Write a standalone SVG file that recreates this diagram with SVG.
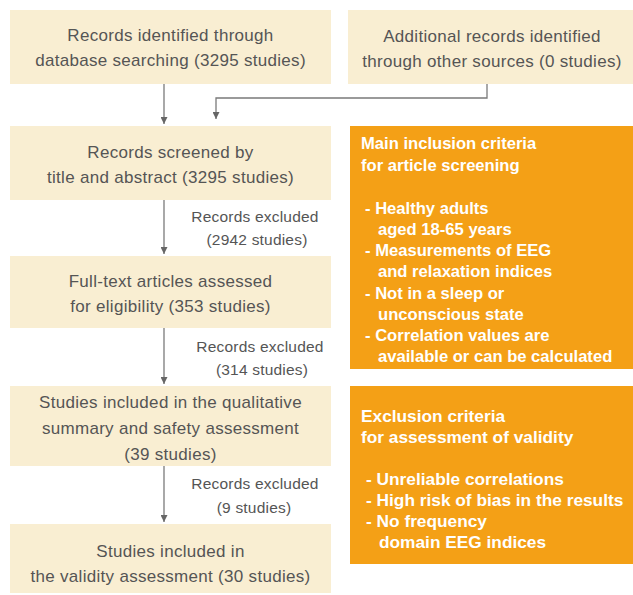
<svg xmlns="http://www.w3.org/2000/svg" width="633" height="595" viewBox="0 0 633 595">
  <style>
    .box { fill: #F9EED2; }
    .crit { fill: #F4A016; }
    .t { font-family: "Liberation Sans", Arial, sans-serif; font-size: 17px; fill: #555555; text-anchor: middle; letter-spacing: 0.3px; }
    .lbl { font-family: "Liberation Sans", Arial, sans-serif; font-size: 15.5px; fill: #555555; text-anchor: middle; letter-spacing: 0.2px; }
    .w { font-family: "Liberation Sans", Arial, sans-serif; font-size: 16.6px; font-weight: bold; fill: #FFFFFF; }
    .w2 { font-family: "Liberation Sans", Arial, sans-serif; font-size: 17.3px; font-weight: bold; fill: #FFFFFF; }
    .edge { fill: none; stroke: #7A7A7A; stroke-width: 1.3; }
  </style>
  <defs>
    <marker id="arrow" viewBox="0 0 10 10" refX="10" refY="5" markerWidth="7" markerHeight="7" markerUnits="userSpaceOnUse" orient="auto">
      <path d="M0,0 L10,5 L0,10 Z" fill="#666666"/>
    </marker>
  </defs>

  <rect width="633" height="595" fill="#FFFFFF"/>

  <!-- connectors -->
  <g id="connectors">
    <line class="edge" x1="164" y1="84" x2="164" y2="124" marker-end="url(#arrow)"/>
    <polyline class="edge" points="487,84 487,98 216,98 216,119" marker-end="url(#arrow)"/>
    <line class="edge" x1="164" y1="200" x2="164" y2="254" marker-end="url(#arrow)"/>
    <line class="edge" x1="164" y1="328" x2="164" y2="384" marker-end="url(#arrow)"/>
    <line class="edge" x1="164" y1="466" x2="164" y2="522" marker-end="url(#arrow)"/>
  </g>

  <!-- exclusion labels along the flow -->
  <g id="excluded-labels">
    <text class="lbl" x="255" y="222">Records excluded</text>
    <text class="lbl" x="257" y="245">(2942 studies)</text>
    <text class="lbl" x="260" y="352">Records excluded</text>
    <text class="lbl" x="262" y="375">(314 studies)</text>
    <text class="lbl" x="255" y="489">Records excluded</text>
    <text class="lbl" x="254" y="513">(9 studies)</text>
  </g>

  <g id="database-search">
    <rect class="box" x="10" y="10" width="321" height="74"/>
    <text class="t" x="170.5" y="41">Records identified through</text>
    <text class="t" x="170.5" y="66">database searching (3295 studies)</text>
  </g>

  <g id="other-sources">
    <rect class="box" x="348" y="10" width="285" height="74"/>
    <text class="t" x="492" y="42">Additional records identified</text>
    <text class="t" x="492" y="67">through other sources (0 studies)</text>
  </g>

  <g id="screened">
    <rect class="box" x="10" y="126" width="321" height="74"/>
    <text class="t" x="170.5" y="158">Records screened by</text>
    <text class="t" x="170.5" y="183">title and abstract (3295 studies)</text>
  </g>

  <g id="full-text">
    <rect class="box" x="10" y="256" width="321" height="72"/>
    <text class="t" x="170.5" y="287">Full-text articles assessed</text>
    <text class="t" x="170.5" y="312">for eligibility (353 studies)</text>
  </g>

  <g id="qualitative">
    <rect class="box" x="10" y="386" width="321" height="80"/>
    <text class="t" x="170.5" y="408">Studies included in the qualitative</text>
    <text class="t" x="170.5" y="434">summary and safety assessment</text>
    <text class="t" x="170.5" y="460">(39 studies)</text>
  </g>

  <g id="validity">
    <rect class="box" x="10" y="524" width="321" height="69"/>
    <text class="t" x="170.5" y="557">Studies included in</text>
    <text class="t" x="170.5" y="582">the validity assessment (30 studies)</text>
  </g>

  <g id="inclusion-criteria">
    <rect class="crit" x="350" y="126" width="283" height="243"/>
    <text class="w" x="361" y="149">Main inclusion criteria</text>
    <text class="w" x="361" y="171">for article screening</text>
    <text class="w" x="365" y="214">- Healthy adults</text>
    <text class="w" x="378" y="235">aged 18-65 years</text>
    <text class="w" x="365" y="256">- Measurements of EEG</text>
    <text class="w" x="378" y="277">and relaxation indices</text>
    <text class="w" x="365" y="299">- Not in a sleep or</text>
    <text class="w" x="378" y="320">unconscious state</text>
    <text class="w" x="365" y="341">- Correlation values are</text>
    <text class="w" x="378" y="362">available or can be calculated</text>
  </g>

  <g id="exclusion-criteria">
    <rect class="crit" x="350" y="386" width="283" height="178"/>
    <text class="w2" x="361" y="422">Exclusion criteria</text>
    <text class="w2" x="361" y="443">for assessment of validity</text>
    <text class="w2" x="366" y="485">- Unreliable correlations</text>
    <text class="w2" x="366" y="506">- High risk of bias in the results</text>
    <text class="w2" x="366" y="527">- No frequency</text>
    <text class="w2" x="379" y="548">domain EEG indices</text>
  </g>
</svg>
